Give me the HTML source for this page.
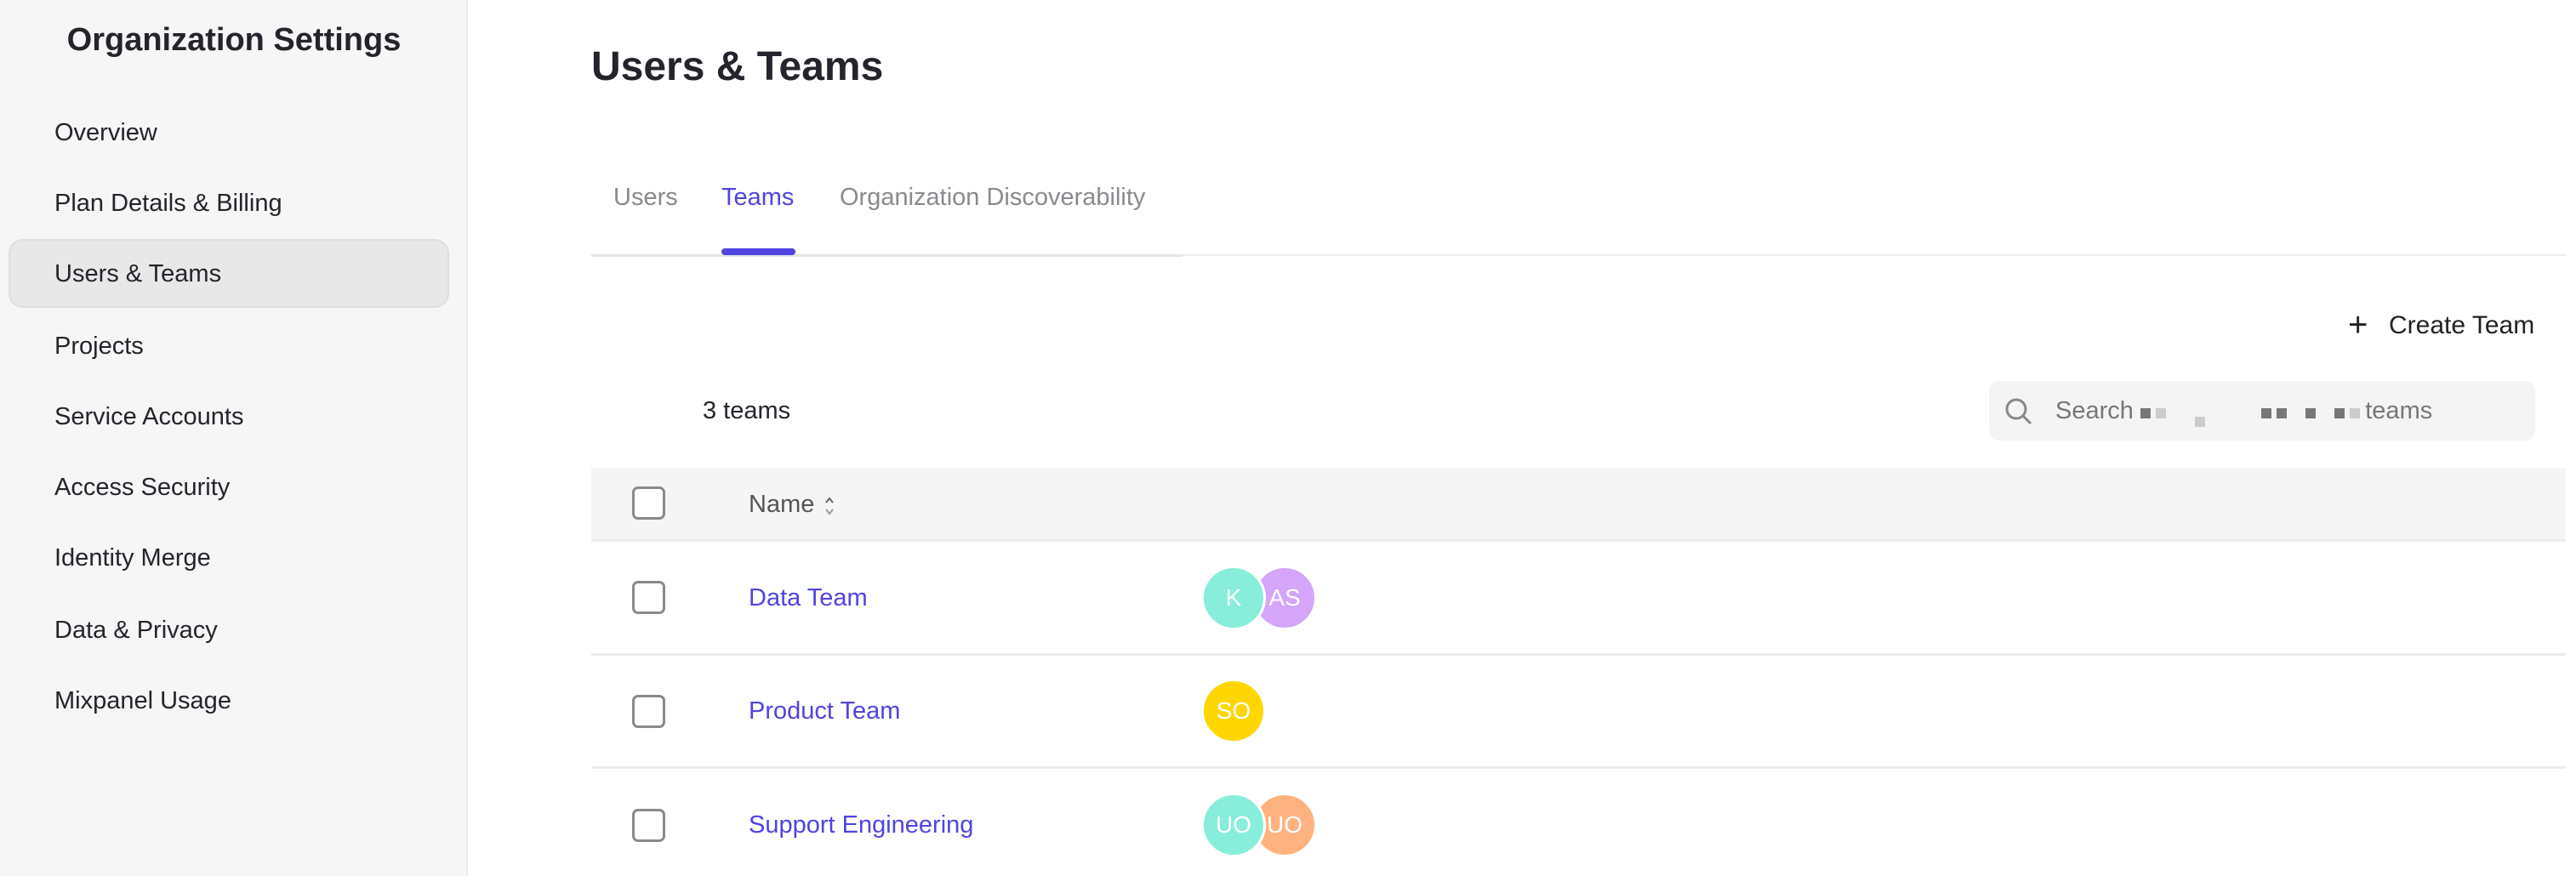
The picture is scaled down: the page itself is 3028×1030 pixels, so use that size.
<!DOCTYPE html>
<html><head><meta charset="utf-8"><style>
*{margin:0;padding:0;box-sizing:border-box}
body{width:3028px;height:1030px;background:#fff;font-family:"Liberation Sans",sans-serif;position:relative;overflow:hidden;color:#2a2a33}
.a{position:absolute;white-space:nowrap}
.side{position:absolute;left:0;top:0;width:550px;height:1030px;background:#f6f6f6;border-right:2px solid #ebebeb}
.nav{position:absolute;left:64px;font-size:29px;line-height:30px;color:#24242c}
.sel{position:absolute;left:10px;top:281px;width:518px;height:81px;background:#e8e8e8;border:2px solid #dedede;border-radius:17px}
.cb{position:absolute;left:743px;width:39px;height:39px;border:3px solid #8a8a8a;border-radius:7px;background:#fff}
.row{position:absolute;left:695px;width:2321px;height:3px;background:#ececec}
.link{position:absolute;left:880px;font-size:29px;color:#4f44e0;line-height:30px}
.av{position:absolute;width:76px;height:76px;border-radius:50%;color:#fff;font-size:28px;line-height:70px;text-align:center;border:3px solid #fff}
.sq{display:inline-block;width:12px;height:12px;background:#777;margin-right:6px}
</style></head><body>
<div class="side"></div>
<div class="a" style="left:0;width:550px;text-align:center;top:26px;font-size:38px;font-weight:bold;color:#24242c">Organization Settings</div>
<div class="sel"></div>
<div class="nav" style="top:141px">Overview</div>
<div class="nav" style="top:224px">Plan Details &amp; Billing</div>
<div class="nav" style="top:307px">Users &amp; Teams</div>
<div class="nav" style="top:392px">Projects</div>
<div class="nav" style="top:475px">Service Accounts</div>
<div class="nav" style="top:558px">Access Security</div>
<div class="nav" style="top:641px">Identity Merge</div>
<div class="nav" style="top:726px">Data &amp; Privacy</div>
<div class="nav" style="top:809px">Mixpanel Usage</div>

<div class="a" style="left:695px;top:51px;font-size:48px;font-weight:bold;color:#24242c">Users &amp; Teams</div>
<div class="a" style="left:721px;top:216px;font-size:29px;color:#8a8a8f">Users</div>
<div class="a" style="left:848px;top:216px;font-size:29px;color:#4f44e0">Teams</div>
<div class="a" style="left:987px;top:216px;font-size:29px;color:#8a8a8f">Organization Discoverability</div>
<div class="a" style="left:695px;top:299px;width:2321px;height:2px;background:#ececec"></div>
<div class="a" style="left:695px;top:299px;width:695px;height:3px;background:#e4e4e4"></div>
<div class="a" style="left:848px;top:292px;width:87px;height:8px;border-radius:4px;background:#4f44e0"></div>

<div class="a" style="left:2760px;top:358px;font-size:40px;color:#222;line-height:48px">+</div>
<div class="a" style="left:2808px;top:366px;font-size:30px;color:#222">Create Team</div>
<div class="a" style="left:826px;top:467px;font-size:29px;color:#24242c">3 teams</div>

<div class="a" style="left:2338px;top:448px;width:642px;height:70px;background:#f4f4f4;border-radius:12px"></div>
<svg class="a" style="left:2355px;top:466px" width="36" height="36" viewBox="0 0 36 36"><circle cx="15" cy="15" r="11" fill="none" stroke="#888" stroke-width="3"/><line x1="23" y1="23" x2="32" y2="32" stroke="#888" stroke-width="3"/></svg>
<div class="a" style="left:2416px;top:467px;font-size:29px;color:#777">Search <span class="sq"></span><span class="sq" style="background:#ccc"></span></div>
<div class="a" style="left:2580px;top:490px;width:12px;height:12px;background:#ccc"></div>
<div class="a" style="left:2658px;top:467px;font-size:29px;color:#777"><span class="sq"></span><span class="sq"></span>&nbsp;&nbsp;<span class="sq"></span>&nbsp;&nbsp;<span class="sq"></span><span class="sq" style="background:#ccc"></span>teams</div>

<div class="a" style="left:695px;top:550px;width:2321px;height:85px;background:#f5f5f5"></div>
<div class="row" style="top:634px"></div>
<div class="cb" style="top:572px"></div>
<div class="a" style="left:880px;top:577px;font-size:29px;color:#555">Name</div>
<svg class="a" style="left:968px;top:582px" width="14" height="26" viewBox="0 0 14 26"><polyline points="3,9 7,4 11,9" fill="none" stroke="#666" stroke-width="2"/><polyline points="3,17 7,22 11,17" fill="none" stroke="#999" stroke-width="2"/></svg>

<div class="cb" style="top:683px"></div>
<div class="link" style="top:688px">Data Team</div>
<div class="av" style="left:1472px;top:665px;background:#d4a5f9">AS</div>
<div class="av" style="left:1412px;top:665px;background:#88eedb">K</div>
<div class="row" style="top:768px"></div>

<div class="cb" style="top:817px"></div>
<div class="link" style="top:821px">Product Team</div>
<div class="av" style="left:1412px;top:798px;background:#ffd600">SO</div>
<div class="row" style="top:901px"></div>

<div class="cb" style="top:951px"></div>
<div class="link" style="top:955px">Support Engineering</div>
<div class="av" style="left:1472px;top:932px;background:#ffb27f">UO</div>
<div class="av" style="left:1412px;top:932px;background:#88eedb">UO</div>
</body></html>
